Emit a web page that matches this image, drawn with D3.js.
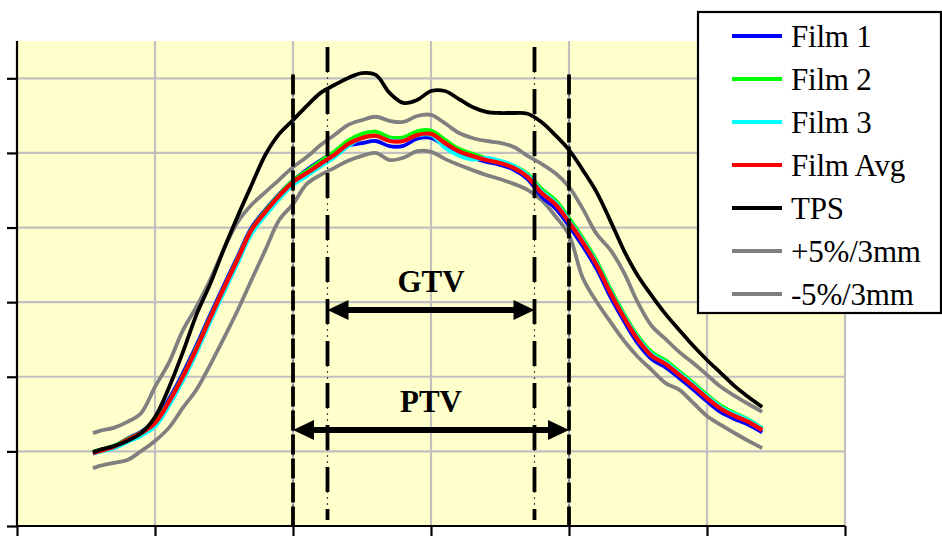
<!DOCTYPE html>
<html>
<head>
<meta charset="utf-8">
<script src="https://cdn.jsdelivr.net/npm/d3@7"></script>
<style>
  body { margin: 0; background: #fff; }
  svg { display: block; }
</style>
</head>
<body>
<svg id="mainsvg"></svg>
<script>
// distance (mm) along the profile
const posMM = [-24.5, -24, -23, -22, -21, -20, -19, -18, -17, -16, -15, -14, -13, -12, -11, -10,
  -9, -8, -7, -6, -5, -4, -3, -2, -1, 0, 1, 2, 3, 4, 5, 6, 7, 8, 9, 10,
  11, 12, 13, 14, 15, 16, 17, 18, 19, 20, 21, 22, 23, 24];

const film1 = [19.4, 20.0, 21.3, 23.4, 25.3, 28.2, 34.0, 40.8, 48.4, 56.6, 64.6, 72.3, 80.0, 84.8, 89.0, 92.6,
  95.5, 98.0, 100.2, 102.0, 102.6, 103.2, 101.8, 101.9, 103.8, 104.0, 101.9, 100.0, 98.7, 97.6, 96.8, 95.5, 93.0, 88.3, 85.2, 80.4,
  75.0, 68.9, 61.4, 54.8, 48.9, 44.7, 42.5, 39.6, 36.6, 33.4, 30.5, 28.7, 27.1, 25.1];
const film2 = [19.9, 20.4, 21.5, 23.3, 25.1, 27.9, 33.4, 40.1, 47.8, 56.0, 64.0, 71.8, 79.6, 84.5, 88.8, 92.6,
  95.2, 97.8, 100.4, 103.3, 105.1, 105.7, 104.2, 104.2, 105.8, 106.0, 103.6, 101.1, 99.8, 98.6, 97.8, 96.6, 94.4, 90.4, 87.4, 82.6,
  77.2, 71.1, 63.6, 56.8, 50.9, 46.6, 44.4, 41.4, 38.4, 35.2, 32.3, 30.3, 28.6, 26.2];
const film3 = [19.5, 19.9, 20.8, 22.5, 24.2, 26.6, 32.1, 38.8, 46.4, 54.7, 62.7, 70.5, 78.3, 83.2, 87.6, 91.4,
  93.8, 96.4, 98.8, 101.8, 104.0, 104.5, 103.4, 103.3, 104.7, 104.8, 101.4, 99.3, 98.2, 98.7, 97.9, 96.6, 94.1, 89.8, 86.8, 82.0,
  76.6, 70.5, 63.0, 56.3, 50.4, 46.1, 43.9, 41.0, 38.0, 34.8, 31.9, 30.0, 28.4, 26.1];
const filmAvg = [19.6, 20.1, 21.2, 23.1, 24.9, 27.6, 33.2, 39.9, 47.5, 55.8, 63.8, 71.6, 79.4, 84.2, 88.5, 92.2,
  94.6, 97.1, 99.5, 102.4, 104.0, 104.6, 103.2, 103.2, 104.8, 105.1, 102.7, 100.5, 99.2, 98.1, 97.3, 96.0, 93.6, 89.3, 86.3, 81.5,
  76.1, 70.0, 62.5, 55.8, 49.9, 45.6, 43.4, 40.5, 37.5, 34.3, 31.4, 29.5, 27.9, 25.7];
const tps = [19.8, 20.4, 21.4, 22.8, 24.9, 29.2, 37.0, 46.4, 56.6, 64.9, 74.3, 83.1, 91.4, 99.5, 105.1, 108.8,
  112.6, 116.1, 118.2, 120.1, 121.4, 120.9, 116.1, 113.4, 114.2, 116.6, 116.6, 114.5, 112.3, 111.0, 110.7, 110.7, 110.5, 108.3, 104.8, 100.8,
  95.4, 89.5, 81.8, 73.7, 67.0, 61.7, 56.8, 52.5, 48.3, 44.5, 41.0, 37.5, 34.6, 31.9];
const plus5 = [24.9, 25.5, 26.3, 27.9, 30.3, 37.3, 43.7, 52.3, 58.7, 66.0, 74.3, 81.5, 86.1, 89.5, 92.8, 96.2,
  98.9, 102.1, 104.8, 107.5, 108.8, 109.7, 108.6, 108.3, 109.9, 110.2, 108.0, 105.4, 104.0, 103.2, 102.7, 101.6, 99.2, 97.1, 94.6, 90.9,
  85.0, 78.3, 74.0, 67.8, 59.8, 53.6, 50.1, 46.6, 43.7, 40.5, 37.3, 34.9, 32.7, 30.6];
const minus5 = [15.5, 16.1, 16.9, 17.7, 20.1, 22.8, 26.3, 31.6, 36.5, 43.2, 50.4, 57.9, 66.0, 74.0, 82.0, 86.3,
  91.7, 94.1, 96.0, 97.9, 99.2, 100.0, 98.1, 98.7, 100.5, 100.3, 98.4, 96.8, 95.4, 94.1, 93.0, 91.7, 90.1, 87.4, 83.1, 78.0,
  66.5, 60.1, 54.7, 49.6, 45.3, 41.8, 38.3, 36.5, 33.0, 29.5, 27.1, 24.9, 22.8, 20.9];

const seriesNames = ["Film 1", "Film 2", "Film 3", "Film Avg", "TPS", "+5%/3mm", "-5%/3mm"];
const seriesColors = ["#0000ff", "#00ff00", "#00ffff", "#ff0000", "#000000", "#808080", "#808080"];
const seriesValues = [film1, film2, film3, filmAvg, tps, plus5, minus5];

const xTicks = [-30, -20, -10, 0, 10, 20, 30];
const yTicks = [0, 20, 40, 60, 80, 100, 120];

// target volume borders (mm) and arrow heights
const gtvEdges = [-7.5, 7.5], gtvArrowY = 57.9;
const ptvEdges = [-10, 10], ptvArrowY = 25.7;

let mainsvg = d3.select("#mainsvg"),
    svgWidth = 942,
    svgHeight = 536,
    plot = {left: 17, right: 845, top: 41, bottom: 526},
    x = d3.scaleLinear().domain([-30, 30]).range([plot.left, plot.right]),
    y = d3.scaleLinear().domain([0, 130]).range([plot.bottom, plot.top]);

mainsvg.attr("width", svgWidth).attr("height", svgHeight);

mainsvg.append("rect")
    .attr("x", plot.left).attr("y", plot.top)
    .attr("width", plot.right - plot.left).attr("height", plot.bottom - plot.top)
    .attr("fill", "#ffffcc");

// grid
let grid = mainsvg.append("g").attr("stroke", "#c0c0c0").attr("stroke-width", 2.2);
grid.selectAll(".gx").data(xTicks.slice(1)).enter().append("line")
    .attr("x1", d => x(d)).attr("x2", d => x(d))
    .attr("y1", plot.top).attr("y2", plot.bottom);
grid.selectAll(".gy").data(yTicks.slice(1)).enter().append("line")
    .attr("x1", plot.left).attr("x2", plot.right)
    .attr("y1", d => y(d)).attr("y2", d => y(d));

// axes
mainsvg.append("g")
    .attr("transform", `translate(0,${plot.bottom})`)
    .call(d3.axisBottom(x).tickValues(xTicks).tickSize(11).tickFormat(""))
    .call(g => g.selectAll("path, line").attr("stroke", "#000").attr("stroke-width", 2.2))
    .call(g => g.select(".domain").attr("d", `M${plot.left},0H${plot.right}`));
mainsvg.append("g")
    .attr("transform", `translate(${plot.left},0)`)
    .call(d3.axisLeft(y).tickValues(yTicks).tickSize(10).tickFormat(""))
    .call(g => g.selectAll("path, line").attr("stroke", "#000").attr("stroke-width", 2.2))
    .call(g => g.select(".domain").attr("d", `M0,${plot.top}V${plot.bottom}`));

// curves
let line = d3.line().x((d, i) => x(posMM[i])).y(d => y(d)).curve(d3.curveCatmullRom);
let drawOrder = [5, 6, 0, 1, 2, 3, 4];
mainsvg.append("g").selectAll("path").data(drawOrder).enter().append("path")
    .attr("d", i => line(seriesValues[i]))
    .attr("fill", "none")
    .attr("stroke", i => seriesColors[i])
    .attr("stroke-width", i => i === 3 ? 4.2 : 3.8)
    .attr("stroke-linejoin", "round");

// volume borders
let borders = mainsvg.append("g");
ptvEdges.forEach(e => {
    borders.append("line")
        .attr("x1", x(e)).attr("x2", x(e)).attr("y1", y(121)).attr("y2", plot.bottom)
        .attr("stroke", "#444").attr("stroke-width", 1.2).attr("stroke-dasharray", "2,3");
    borders.append("line")
        .attr("x1", x(e)).attr("x2", x(e)).attr("y1", y(121)).attr("y2", plot.bottom)
        .attr("stroke", "#000").attr("stroke-width", 3.8).attr("stroke-dasharray", "20,4");
});
gtvEdges.forEach(e => {
    borders.append("line")
        .attr("x1", x(e)).attr("x2", x(e)).attr("y1", y(128.4)).attr("y2", y(1.6))
        .attr("stroke", "#444").attr("stroke-width", 1.2).attr("stroke-dasharray", "2,4");
    borders.append("line")
        .attr("x1", x(e)).attr("x2", x(e)).attr("y1", y(128.4)).attr("y2", y(1.6))
        .attr("stroke", "#000").attr("stroke-width", 3.8).attr("stroke-dasharray", "25,17");
});

function doubleArrow(x1, x2, yy, label) {
    let g = mainsvg.append("g");
    g.append("line")
        .attr("x1", x1 + 10).attr("x2", x2 - 10).attr("y1", yy).attr("y2", yy)
        .attr("stroke", "#000").attr("stroke-width", 6);
    g.append("path").attr("d", `M${x1},${yy}l21,-10v20z`).attr("fill", "#000");
    g.append("path").attr("d", `M${x2},${yy}l-21,-10v20z`).attr("fill", "#000");
    g.append("text")
        .attr("x", (x1 + x2) / 2).attr("y", yy - 18)
        .attr("text-anchor", "middle")
        .attr("font-family", "Liberation Serif, Times New Roman, serif")
        .attr("font-weight", "bold").attr("font-size", 31)
        .text(label);
}
doubleArrow(x(gtvEdges[0]), x(gtvEdges[1]), y(gtvArrowY), "GTV");
doubleArrow(x(ptvEdges[0]), x(ptvEdges[1]), y(ptvArrowY), "PTV");

// legend
let legend = mainsvg.append("g");
legend.append("rect")
    .attr("x", 698).attr("y", 12).attr("width", 243).attr("height", 301)
    .attr("fill", "#fff").attr("stroke", "#000").attr("stroke-width", 2.2);
let item = legend.selectAll(".item").data(seriesNames).enter().append("g")
    .attr("transform", (d, i) => `translate(0,${36 + i * 43})`);
item.append("line")
    .attr("x1", 732).attr("x2", 782).attr("y1", 0).attr("y2", 0)
    .attr("stroke", (d, i) => seriesColors[i]).attr("stroke-width", 4);
item.append("text")
    .attr("x", 791).attr("y", 11)
    .attr("font-family", "Liberation Serif, Times New Roman, serif")
    .attr("font-size", 31)
    .attr("letter-spacing", -0.2)
    .text(d => d);
</script>
</body>
</html>
